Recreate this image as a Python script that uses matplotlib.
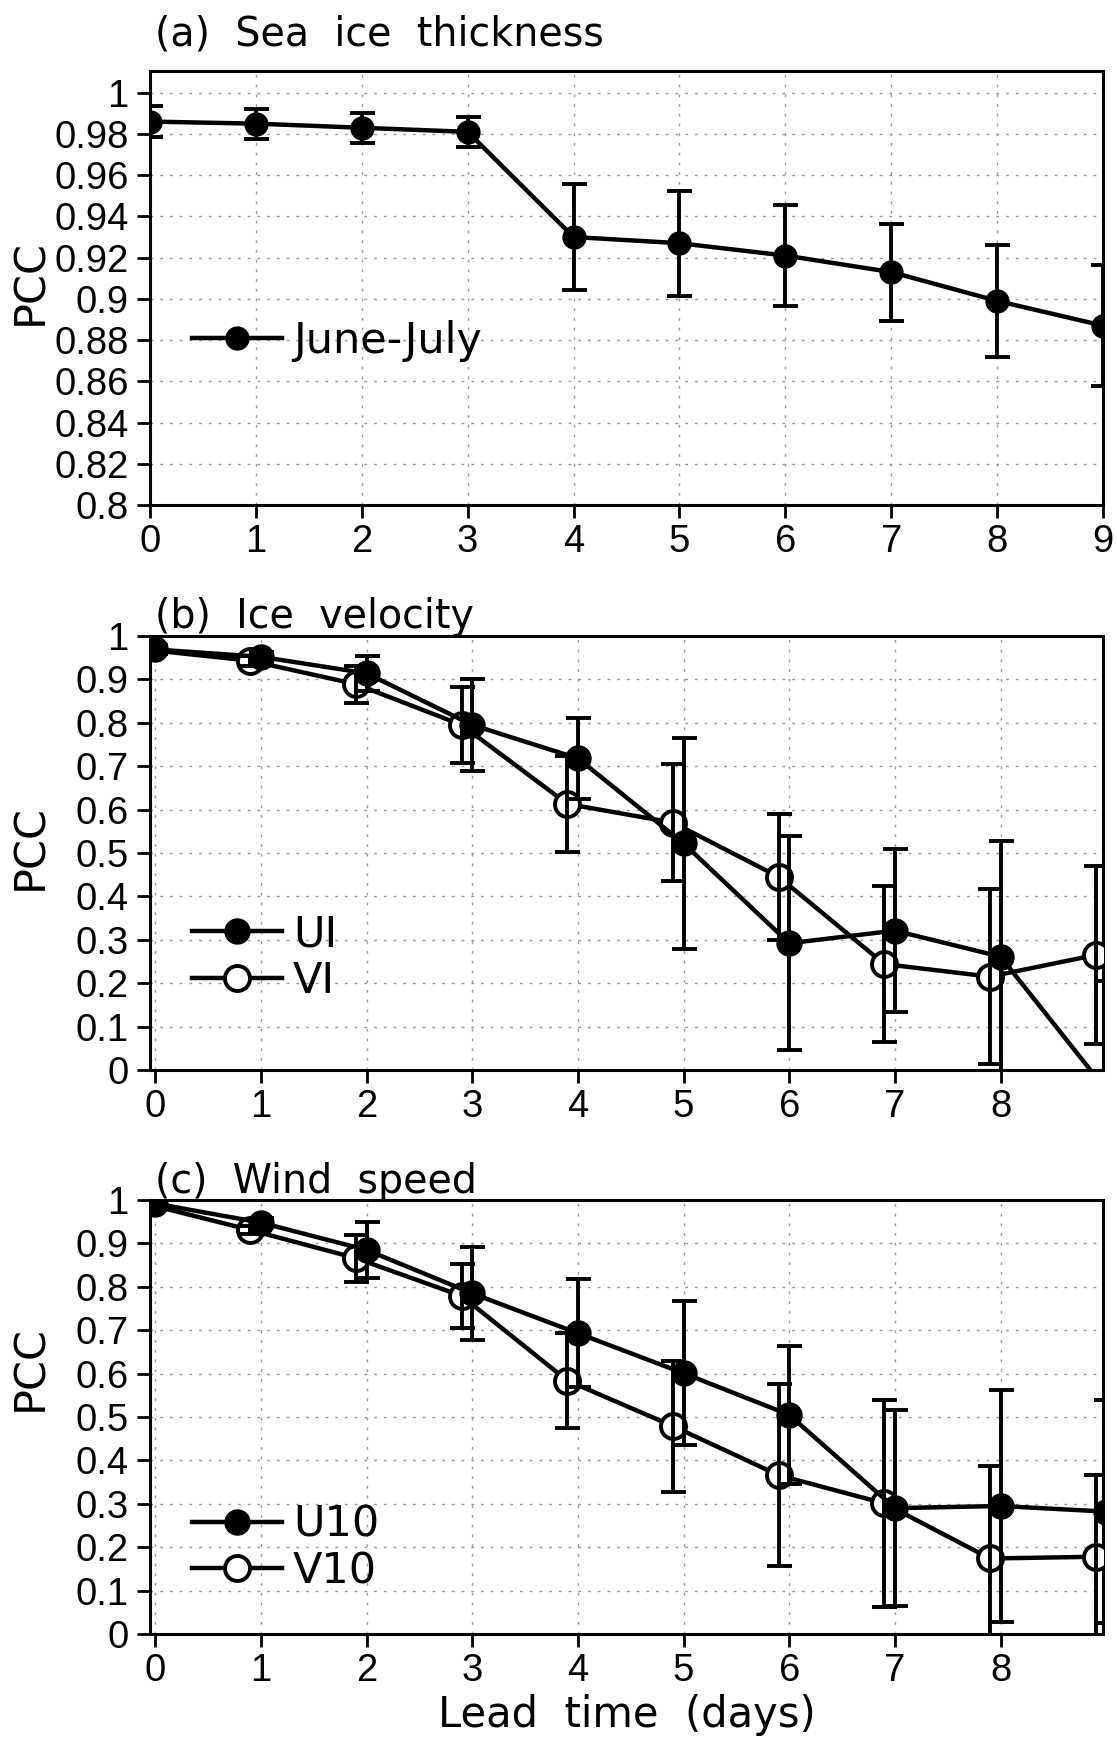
import matplotlib
matplotlib.use("Agg")
import matplotlib.pyplot as plt
import numpy as np

plt.rcParams['font.family'] = ['DejaVu Sans']

lead = [0, 1, 2, 3, 4, 5, 6, 7, 8, 9]

# (a) sea ice thickness, June-July
sit = [0.986, 0.985, 0.983, 0.981, 0.930, 0.927, 0.921, 0.913, 0.899, 0.887]
sit_err = [0.0075, 0.0073, 0.0073, 0.0073, 0.0255, 0.0255, 0.0245, 0.0235, 0.027, 0.0295]

# (b) ice velocity
ui = [0.969, 0.952, 0.914, 0.795, 0.718, 0.522, 0.292, 0.321, 0.261, -0.046]
ui_err = [0.01, 0.012, 0.04, 0.105, 0.094, 0.243, 0.246, 0.187, 0.267, 0.25]
vi = [0.969, 0.943, 0.889, 0.795, 0.613, 0.570, 0.445, 0.244, 0.215, 0.265]
vi_err = [0.01, 0.012, 0.043, 0.087, 0.11, 0.134, 0.145, 0.179, 0.202, 0.206]

# (c) wind speed
u10 = [0.992, 0.948, 0.885, 0.785, 0.693, 0.601, 0.505, 0.290, 0.295, 0.282]
u10_err = [0.005, 0.01, 0.065, 0.107, 0.124, 0.166, 0.159, 0.226, 0.267, 0.257]
v10 = [0.992, 0.931, 0.866, 0.779, 0.584, 0.479, 0.366, 0.301, 0.174, 0.178]
v10_err = [0.005, 0.01, 0.054, 0.073, 0.11, 0.151, 0.21, 0.238, 0.213, 0.188]

titles = ['(a)  Sea  ice  thickness', '(b)  Ice  velocity', '(c)  Wind  speed']

fig = plt.figure(figsize=(11.17, 17.42), dpi=100)
boxes = [[0.1343, 0.7101, 0.8532, 0.2491],
         [0.1343, 0.3858, 0.8532, 0.2491],
         [0.1343, 0.0620, 0.8532, 0.2491]]
axs = [fig.add_axes(b) for b in boxes]

LW = 3.2


def style(ax, yticks, xticks):
    ax.set_yticks(yticks)
    ax.set_yticklabels(['%g' % v for v in yticks], fontfamily='Liberation Sans', fontsize=27.5)
    ax.set_xticks(xticks)
    ax.set_xticklabels([str(v) for v in xticks], fontfamily='Liberation Sans', fontsize=27.5)
    ax.tick_params(axis='y', direction='out', length=9.5, width=2, pad=6)
    ax.tick_params(axis='x', direction='out', length=9.5, width=2, pad=4)
    for s in ax.spines.values():
        s.set_linewidth(2.2)
    ax.grid(True, color='0.6', linestyle=(0, (2, 5)), linewidth=1)
    ax.set_axisbelow(True)


def series(ax, x, y, err, filled, ms):
    x = np.array(x, dtype=float)
    if filled:
        ax.plot(x, y, '-o', color='k', lw=LW, ms=ms, zorder=3)
    else:
        ax.plot(x, y, '-o', color='k', lw=LW, ms=ms, mfc='white', mec='k', mew=2.8, zorder=3)
    ax.errorbar(x, y, yerr=err, fmt='none', ecolor='k', elinewidth=2.8,
                capsize=9, capthick=2.8, zorder=5)


def legend(ax, labels, y):
    h = [plt.Line2D([], [], color='k', lw=LW, marker='o', ms=18, mfc='k'),
         plt.Line2D([], [], color='k', lw=LW, marker='o', ms=18, mfc='white', mew=2.8)]
    ax.legend(h[:len(labels)], labels, loc='center left', bbox_to_anchor=(0.044, y),
              frameon=False, fontsize=31, handlelength=2.1, handletextpad=0.25,
              borderpad=0, borderaxespad=0, labelspacing=0.1)


# (a)
ax = axs[0]
series(ax, lead, sit, sit_err, True, 16.5)
ax.set_xlim(0, 9)
ax.set_ylim(0.8, 1.0105)
style(ax, np.round(np.arange(0.8, 1.001, 0.02), 2), list(range(10)))
ax.legend([plt.Line2D([], [], color='k', lw=LW, marker='o', ms=16.5)], ['June-July'],
          loc='center left', bbox_to_anchor=(0.044, 0.378), frameon=False, fontsize=31,
          handlelength=2.1, handletextpad=0.25, borderpad=0, borderaxespad=0)

# (b)
ax = axs[1]
series(ax, np.array(lead) - 0.1, vi, vi_err, False, 18)
series(ax, lead, ui, ui_err, True, 18)
ax.set_xlim(-0.05, 8.97)
ax.set_ylim(0, 1)
style(ax, np.round(np.arange(0, 1.001, 0.1), 1), list(range(9)))
legend(ax, ['UI', 'VI'], 0.259)

# (c)
ax = axs[2]
series(ax, np.array(lead) - 0.1, v10, v10_err, False, 18)
series(ax, lead, u10, u10_err, True, 18)
ax.set_xlim(-0.05, 8.97)
ax.set_ylim(0, 1)
style(ax, np.round(np.arange(0, 1.001, 0.1), 1), list(range(9)))
legend(ax, ['U10', 'V10'], 0.198)
ax.set_xlabel('Lead  time  (days)', fontsize=30, labelpad=4)

label_y = [0.514, 0.514, 0.613]
for ax, ly in zip(axs, label_y):
    ax.set_ylabel('PCC', fontsize=31, va='center')
    ax.yaxis.set_label_coords(-0.126, ly)

fig.text(0.1388, 0.9736, titles[0], fontsize=28.5, va='baseline')
fig.text(0.1388, 0.6395, titles[1], fontsize=28.5, va='baseline')
fig.text(0.1388, 0.3152, titles[2], fontsize=28.5, va='baseline')

fig.savefig('out.png', dpi=100)
